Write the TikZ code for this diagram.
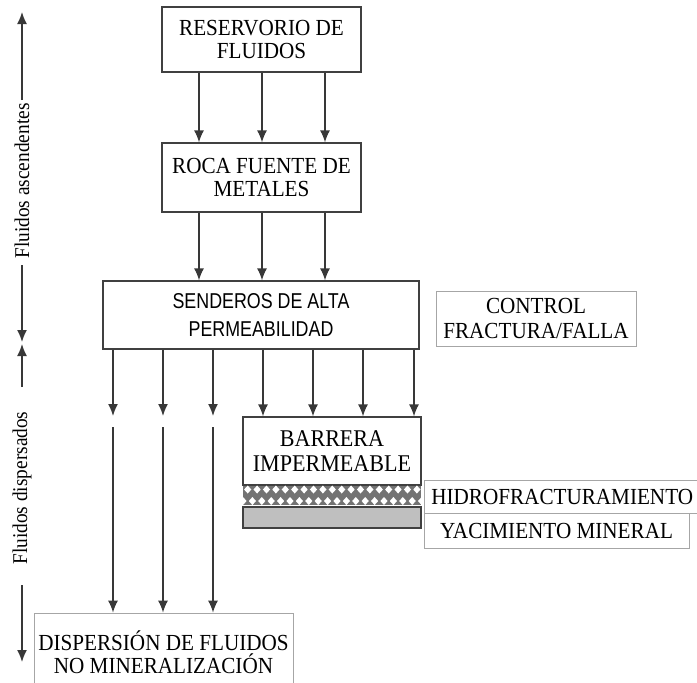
\documentclass[tikz,border=0pt]{standalone}
\usepackage{fontspec}
\setmainfont[FakeStretch=0.92]{Liberation Serif}
\newfontfamily\sansf[FakeStretch=0.83]{Liberation Sans}
\usetikzlibrary{arrows.meta,shadows}
\begin{document}
\begin{tikzpicture}[x=1pt,y=-1pt,
  mainbox/.style={draw=black!75, line width=1.2pt, fill=white, inner sep=0pt, align=center,
    drop shadow={shadow xshift=1.4pt, shadow yshift=-1.4pt, fill=black!65, opacity=1}},
  thinbox/.style={draw=black!35, line width=0.7pt, fill=white, inner sep=0pt, align=center},
  arr/.style={draw=black!78, line width=1.5pt, -{Latex[length=12pt,width=10pt]}},
  axarr/.style={draw=black!78, line width=1.5pt, -{Latex[length=12pt,width=10pt]}},
  txt/.style={font=\fontsize{23}{23}\selectfont},
  vlab/.style={rotate=90, inner sep=0pt, font=\fontsize{21}{21}\selectfont},
]
\path[use as bounding box, clip] (0,0) rectangle (697,683);

% main chain
\node[mainbox, minimum width=199pt, minimum height=65pt, font=\fontsize{23}{23}\selectfont] (res) at (261.5,39.5) {RESERVORIO DE\\FLUIDOS};
\node[mainbox, minimum width=199pt, minimum height=69pt, font=\fontsize{23}{23}\selectfont] (roca) at (261.5,177.5) {ROCA FUENTE DE\\METALES};
\node[mainbox, minimum width=316pt, minimum height=68pt, font=\sansf\fontsize{21.5}{28}\selectfont] (sen) at (261,315) {SENDEROS DE ALTA\\PERMEABILIDAD};
\node[thinbox, minimum width=200pt, minimum height=55pt, font=\fontsize{23}{25}\selectfont] (ctrl) at (536,318.5) {CONTROL\\FRACTURA/FALLA};
\node[mainbox, minimum width=178pt, minimum height=68pt, font=\fontsize{24}{25}\selectfont] (bar) at (332,451) {BARRERA\\IMPERMEABLE};

% hatched band
\node[fill=black!55, minimum width=178pt, minimum height=19pt, inner sep=0pt] (hatch) at (332,495.5) {};
\begin{scope}
  \clip (hatch.south west) rectangle (hatch.north east);
  \foreach \i in {0,...,19} {
    \fill[white] ({247.7+9.4*\i},485.5) -- ++(3.6,4) -- ++(-3.6,4) -- ++(-3.6,-4) -- cycle;
    \fill[white] ({243+9.4*\i},497) -- ++(3.6,4) -- ++(-3.6,4) -- ++(-3.6,-4) -- cycle;
  }
\end{scope}
\node[draw=black!75, line width=1.2pt, fill=black!25, minimum width=178pt, minimum height=21pt, inner sep=0pt] (ore) at (332,517.5) {};

\node[thinbox, anchor=west, minimum height=33pt, inner xsep=7pt, txt] (hid) at (424,496.5) {HIDROFRACTURAMIENTO};
\node[thinbox, minimum width=265pt, minimum height=35pt, txt] (yac) at (556.5,530.5) {YACIMIENTO MINERAL};
\node[thinbox, minimum width=259pt, minimum height=78pt, txt] (disp) at (163.5,652) {DISPERSIÓN DE FLUIDOS\\NO MINERALIZACIÓN};

% connectors
\foreach \x [count=\k] in {199,262,325} {
  \coordinate (u\k) at (\x,0);
  \draw[arr] (res.south -| u\k) -- (roca.north -| u\k);
  \draw[arr] (roca.south -| u\k) -- (sen.north -| u\k);
}
\foreach \x [count=\k] in {113,163,213} {
  \coordinate (l\k) at (\x,0);
  \coordinate (lt\k) at (\x,416);
  \coordinate (ls\k) at (\x,427);
  \draw[arr] (sen.south -| l\k) -- (lt\k);
  \draw[arr] (ls\k) -- (disp.north -| l\k);
}
\foreach \x [count=\k] in {263,313,363,414} {
  \coordinate (r\k) at (\x,0);
  \draw[arr] (sen.south -| r\k) -- (bar.north -| r\k);
}

% left axis
\node[vlab] (asc) at (22,181) {Fluidos ascendentes};
\node[vlab] (dis) at (22,488) {Fluidos dispersados};
\coordinate (a1) at (22,12);
\coordinate (a2) at (22,100);
\coordinate (a3) at (22,265);
\coordinate (a4) at (22,342);
\coordinate (a5) at (22,344);
\coordinate (a6) at (22,387);
\coordinate (a7) at (22,585);
\coordinate (a8) at (22,662);
\draw[axarr] (a2) -- (a1);
\draw[axarr] (a3) -- (a4);
\draw[axarr] (a6) -- (a5);
\draw[axarr] (a7) -- (a8);
\end{tikzpicture}
\end{document}
